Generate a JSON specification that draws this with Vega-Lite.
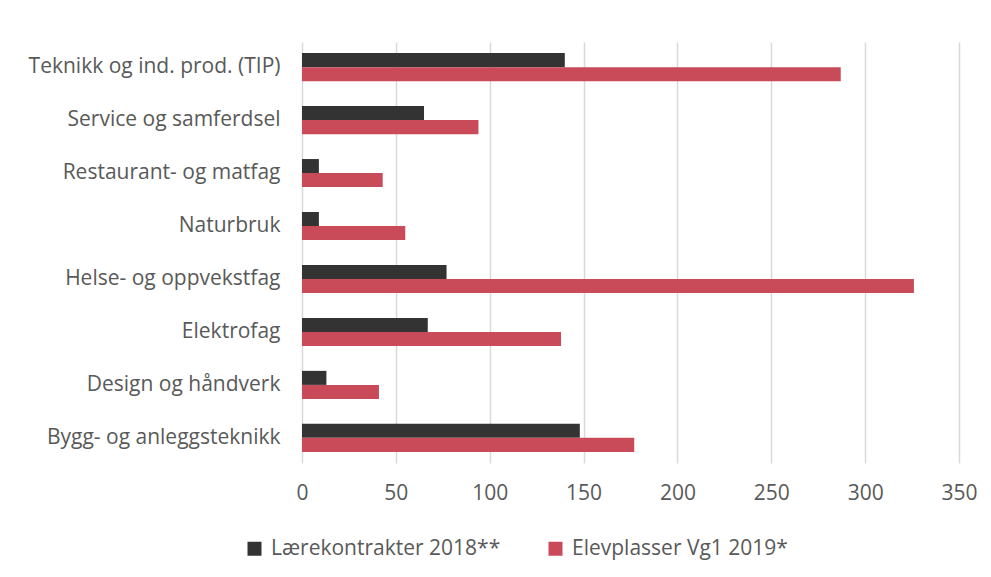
{
  "$schema": "https://vega.github.io/schema/vega-lite/v6.json",
  "width": 657,
  "height": 421,
  "padding": {"left": 28, "top": 42, "right": 5, "bottom": 5},
  "background": "white",
  "config": {
    "view": {"stroke": null},
    "font": "Open Sans",
    "axis": {"labelFont": "Open Sans", "labelColor": "#595959"}
  },
  "data": {
    "values": [
      {"fag": "Teknikk og ind. prod. (TIP)", "serie": "Lærekontrakter 2018**", "antall": 140},
      {"fag": "Teknikk og ind. prod. (TIP)", "serie": "Elevplasser Vg1 2019*", "antall": 287},
      {"fag": "Service og samferdsel", "serie": "Lærekontrakter 2018**", "antall": 65},
      {"fag": "Service og samferdsel", "serie": "Elevplasser Vg1 2019*", "antall": 94},
      {"fag": "Restaurant- og matfag", "serie": "Lærekontrakter 2018**", "antall": 9},
      {"fag": "Restaurant- og matfag", "serie": "Elevplasser Vg1 2019*", "antall": 43},
      {"fag": "Naturbruk", "serie": "Lærekontrakter 2018**", "antall": 9},
      {"fag": "Naturbruk", "serie": "Elevplasser Vg1 2019*", "antall": 55},
      {"fag": "Helse- og oppvekstfag", "serie": "Lærekontrakter 2018**", "antall": 77},
      {"fag": "Helse- og oppvekstfag", "serie": "Elevplasser Vg1 2019*", "antall": 326},
      {"fag": "Elektrofag", "serie": "Lærekontrakter 2018**", "antall": 67},
      {"fag": "Elektrofag", "serie": "Elevplasser Vg1 2019*", "antall": 138},
      {"fag": "Design og håndverk", "serie": "Lærekontrakter 2018**", "antall": 13},
      {"fag": "Design og håndverk", "serie": "Elevplasser Vg1 2019*", "antall": 41},
      {"fag": "Bygg- og anleggsteknikk", "serie": "Lærekontrakter 2018**", "antall": 148},
      {"fag": "Bygg- og anleggsteknikk", "serie": "Elevplasser Vg1 2019*", "antall": 177}
    ]
  },
  "mark": {"type": "bar"},
  "encoding": {
    "y": {
      "field": "fag",
      "type": "nominal",
      "sort": ["Teknikk og ind. prod. (TIP)", "Service og samferdsel", "Restaurant- og matfag", "Naturbruk", "Helse- og oppvekstfag", "Elektrofag", "Design og håndverk", "Bygg- og anleggsteknikk"],
      "scale": {"paddingInner": 0.47, "paddingOuter": 0.21},
      "axis": {"title": null, "ticks": false, "domain": false, "labelFontSize": 21, "labelPadding": 22, "labelLimit": 400}
    },
    "yOffset": {
      "field": "serie",
      "type": "nominal",
      "sort": ["Lærekontrakter 2018**", "Elevplasser Vg1 2019*"]
    },
    "x": {
      "field": "antall",
      "type": "quantitative",
      "scale": {"domain": [0, 350], "nice": false},
      "axis": {"title": null, "values": [0, 50, 100, 150, 200, 250, 300, 350], "ticks": false, "domain": false, "grid": true, "gridColor": "#d9d9d9", "gridWidth": 1.5, "labelFontSize": 21, "labelPadding": 19, "labelFlush": false}
    },
    "color": {
      "field": "serie",
      "type": "nominal",
      "scale": {"domain": ["Lærekontrakter 2018**", "Elevplasser Vg1 2019*"], "range": ["#333333", "#C94B5A"]},
      "legend": {
        "title": null,
        "orient": "none",
        "direction": "horizontal",
        "legendX": -58,
        "legendY": 496,
        "symbolType": "square",
        "symbolSize": 196,
        "symbolStrokeWidth": 0,
        "labelFontSize": 21,
        "labelFont": "Open Sans",
        "labelColor": "#595959",
        "labelOffset": 6,
        "columnPadding": 44,
        "labelLimit": 400
      }
    }
  }
}
